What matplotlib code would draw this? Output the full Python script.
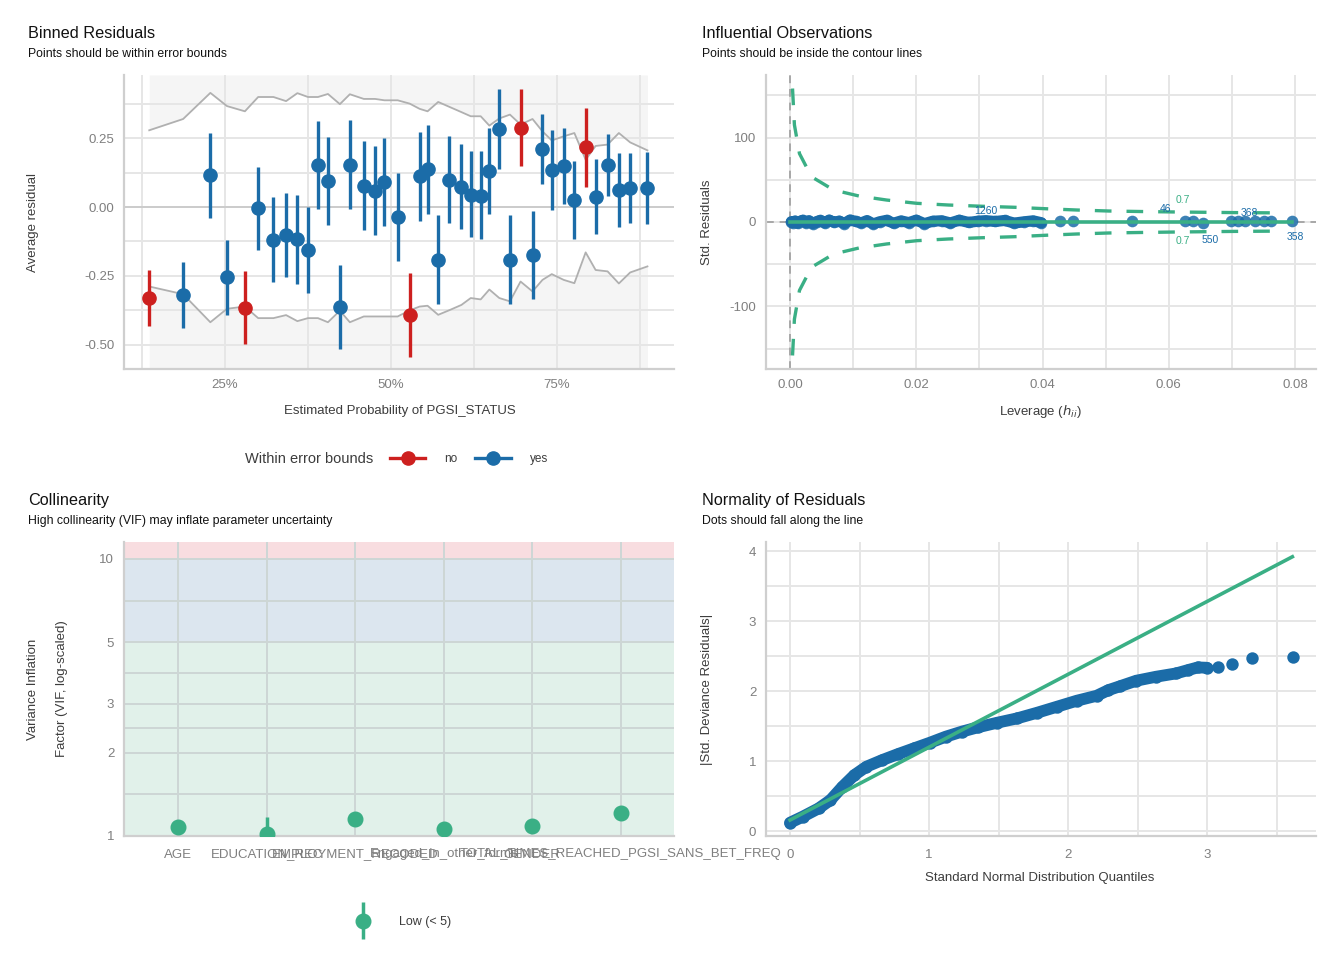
import numpy as np
import matplotlib
matplotlib.use('Agg')
import matplotlib.pyplot as plt
from matplotlib.lines import Line2D
from matplotlib.ticker import NullFormatter
from matplotlib.legend_handler import HandlerErrorbar

plt.rcParams['font.family'] = ['Liberation Sans', 'DejaVu Sans']
plt.rcParams['axes.unicode_minus'] = False

RED = '#cd201f'
BLUE = '#1b6ca8'
GREEN = '#3aaf85'
TICK_COL = '#7f7f7f'
LAB_COL = '#3c3c3c'

# ---- binned residuals ----
bin_x = [0.136, 0.187, 0.228, 0.253, 0.280, 0.300, 0.323, 0.342, 0.359, 0.375, 0.390,
         0.405, 0.423, 0.438, 0.459, 0.476, 0.490, 0.510, 0.528, 0.543, 0.555, 0.571,
         0.588, 0.606, 0.620, 0.635, 0.648, 0.663, 0.679, 0.695, 0.713, 0.728, 0.742,
         0.760, 0.776, 0.793, 0.808, 0.826, 0.843, 0.860, 0.886]
bin_y = [-0.331, -0.320, 0.115, -0.256, -0.369, -0.004, -0.119, -0.103, -0.117, -0.158, 0.152,
         0.093, -0.365, 0.152, 0.075, 0.057, 0.091, -0.038, -0.394, 0.112, 0.140, -0.191,
         0.097, 0.072, 0.045, 0.041, 0.130, 0.285, -0.191, 0.288, -0.175, 0.211, 0.133,
         0.148, 0.024, 0.217, 0.035, 0.152, 0.061, 0.069, 0.069]
bin_hi = [-0.228, -0.201, 0.268, -0.119, -0.234, 0.147, 0.035, 0.050, 0.042, -0.001, 0.312,
          0.254, -0.212, 0.316, 0.239, 0.221, 0.250, 0.123, -0.241, 0.272, 0.297, -0.030,
          0.257, 0.228, 0.203, 0.203, 0.286, 0.428, -0.030, 0.428, -0.016, 0.337, 0.279,
          0.286, 0.166, 0.359, 0.174, 0.265, 0.195, 0.195, 0.199]
bin_lo = [-0.434, -0.441, -0.040, -0.394, -0.499, -0.157, -0.271, -0.256, -0.280, -0.313, -0.007,
          -0.067, -0.517, -0.007, -0.084, -0.102, -0.069, -0.197, -0.546, -0.051, -0.025, -0.353,
          -0.058, -0.080, -0.109, -0.117, -0.025, 0.137, -0.353, 0.149, -0.335, 0.083, -0.011,
          0.011, -0.117, 0.073, -0.098, 0.040, -0.073, -0.058, -0.062]
bound_up = [0.279, 0.320, 0.415, 0.367, 0.348, 0.400, 0.400, 0.385, 0.414, 0.400, 0.400,
            0.411, 0.374, 0.410, 0.393, 0.393, 0.388, 0.388, 0.376, 0.357, 0.348, 0.382,
            0.364, 0.345, 0.330, 0.330, 0.296, 0.322, 0.336, 0.300, 0.320, 0.275, 0.242,
            0.257, 0.269, 0.172, 0.222, 0.227, 0.269, 0.235, 0.206]
bound_lo = [-0.289, -0.317, -0.419, -0.370, -0.362, -0.404, -0.404, -0.393, -0.415, -0.404, -0.404,
            -0.419, -0.377, -0.419, -0.398, -0.398, -0.398, -0.398, -0.376, -0.362, -0.359, -0.392,
            -0.375, -0.356, -0.331, -0.336, -0.300, -0.331, -0.343, -0.271, -0.307, -0.265, -0.244,
            -0.265, -0.277, -0.165, -0.229, -0.234, -0.278, -0.238, -0.216]
within = ['no', 'yes', 'yes', 'yes', 'no', 'yes', 'yes', 'yes', 'yes', 'yes', 'yes',
          'yes', 'yes', 'yes', 'yes', 'yes', 'yes', 'yes', 'no', 'yes', 'yes', 'yes',
          'yes', 'yes', 'yes', 'yes', 'yes', 'yes', 'yes', 'no', 'yes', 'yes', 'yes',
          'yes', 'yes', 'no', 'yes', 'yes', 'yes', 'yes', 'yes']

# ---- influential observations ----
lev_h = [0.0002, 0.0005, 0.0008, 0.0012, 0.0016, 0.0020, 0.0025, 0.0030, 0.0036, 0.0042,
         0.0048, 0.0055, 0.0062, 0.0070, 0.0078, 0.0086, 0.0095, 0.0104, 0.0113, 0.0122,
         0.0132, 0.0142, 0.0153, 0.0164, 0.0176, 0.0188, 0.0200, 0.0213, 0.0226, 0.0240,
         0.0254, 0.0268, 0.0283, 0.0298, 0.0310, 0.0325, 0.0340, 0.0355, 0.0370, 0.0385,
         0.0398, 0.0427, 0.0448, 0.0541, 0.0625, 0.0638, 0.0654, 0.0698, 0.0710, 0.0720,
         0.0736, 0.0750, 0.0762, 0.0795]
lev_r = [0.4, -0.6, 1.2, -1.5, 0.8, 2.1, -0.9, 1.6, -2.0, 0.5, 1.9, -1.2, 2.3, -0.4, 1.1,
         -1.8, 2.4, 0.7, -1.0, 1.7, -2.2, 0.3, 2.0, -1.4, 1.3, -0.7, 2.2, -1.9, 0.9, 1.5,
         -1.1, 2.1, -0.5, 1.0, 1.6, 0.6, 1.8, -1.3, 0.2, 1.4, -0.8, 1.2, 0.9, 1.1, 1.3,
         1.6, -1.0, 1.4, 1.5, 1.2, 1.7, 1.3, 1.1, 1.5]
n_dense = 41  # observations packed in the solid band near zero leverage
cook_h = [0.0004, 0.0007, 0.0015, 0.0034, 0.0069, 0.0109, 0.0153, 0.0201, 0.0251, 0.0305,
          0.0356, 0.0405, 0.0454, 0.0505, 0.0556, 0.0606, 0.0656, 0.0708, 0.0771]
cook_y = [158, 115, 81, 53.6, 37.9, 30.8, 26.0, 22.1, 20.1, 18.6, 17.4, 15.7, 14.2, 13.0,
          12.4, 11.9, 11.5, 11.1, 10.8]
obs_labels = ['1260', '46', '368', '550', '358']
obs_h = [0.0310, 0.0595, 0.0727, 0.0665, 0.0801]
obs_y = [13, 15.4, 10.6, -21, -17.8]
cook_level = '0.7'

# ---- collinearity ----
vif_names = ['AGE', 'EDUCATION_REC', 'EMPLOYMENT_RECODED', 'Engaged_in_other_forms',
             'GENDER', 'TOTAL_TIMES_REACHED_PGSI_SANS_BET_FREQ']
vif = [1.08, 1.02, 1.15, 1.06, 1.09, 1.21]
vif_lo = [1.04, 0.98, 1.11, 1.02, 1.05, 1.17]
vif_hi = [1.11, 1.17, 1.19, 1.09, 1.13, 1.25]

# ---- normality ----
qq_x = [0.0, 0.091, 0.206, 0.291, 0.377, 0.463, 0.549, 0.663, 0.777, 0.891, 1.006, 1.12,
        1.234, 1.349, 1.491, 1.634, 1.777, 1.92, 2.063, 2.206, 2.291, 2.377, 2.491, 2.634,
        2.777, 2.863, 2.934, 3.0, 3.077, 3.177, 3.32, 3.62]
qq_y = [0.119, 0.205, 0.324, 0.443, 0.633, 0.80, 0.919, 1.014, 1.10, 1.181, 1.262, 1.348,
        1.419, 1.481, 1.548, 1.61, 1.69, 1.776, 1.862, 1.933, 2.014, 2.071, 2.148, 2.205,
        2.252, 2.30, 2.338, 2.333, 2.343, 2.381, 2.467, 2.49]
ref_x = [0.0, 3.614]
ref_y = [0.157, 3.919]

W, H = 1344, 960
fig = plt.figure(figsize=(W / 100, H / 100), dpi=100)


def px_axes(x0, y0, x1, y1):
    return fig.add_axes([x0 / W, 1 - y1 / H, (x1 - x0) / W, (y1 - y0) / H])


def style(ax, gridcol='#e6e6e6'):
    for s in ['top', 'right']:
        ax.spines[s].set_visible(False)
    for s in ['left', 'bottom']:
        ax.spines[s].set_color('#cfcfcf')
        ax.spines[s].set_linewidth(1.6)
    ax.tick_params(which='both', length=0, colors=TICK_COL, labelsize=9.5, pad=7)
    ax.set_axisbelow(True)
    ax.grid(True, which='both', color=gridcol, lw=1.4)


def ftext(x, y, s, **kw):
    return fig.text(x / W, 1 - y / H, s, **kw)


# Panel 1: binned residuals
ax1 = px_axes(124, 75, 674, 369)
style(ax1)
y0, y1 = -0.589, 0.48
ax1.set_xlim(0.098, 0.926)
ax1.set_ylim(y0, y1)
ax1.fill_between(bin_x, y0, bound_lo, color='#f5f5f5', lw=0, zorder=0.2)
ax1.fill_between(bin_x, bound_up, y1, color='#f5f5f5', lw=0, zorder=0.2)
ax1.axhline(0, color='#cccccc', lw=1.4, zorder=0.6)
ax1.plot(bin_x, bound_up, color='#b0b0b0', lw=1.3, zorder=1)
ax1.plot(bin_x, bound_lo, color='#b0b0b0', lw=1.3, zorder=1)
for xv, yv, lo, hi, w in zip(bin_x, bin_y, bin_lo, bin_hi, within):
    c = RED if w == 'no' else BLUE
    ax1.errorbar([xv], [yv], yerr=[[yv - lo], [hi - yv]], fmt='o', color=c, ms=9.5,
                 elinewidth=2.4, capsize=0, zorder=3)
ax1.set_xticks([0.25, 0.5, 0.75], ['25%', '50%', '75%'])
ax1.set_xticks([0.125, 0.375, 0.625, 0.875], minor=True)
ax1.set_yticks([-0.5, -0.25, 0.0, 0.25], ['-0.50', '-0.25', '0.00', '0.25'])
ax1.set_yticks([-0.375, -0.125, 0.125, 0.375], minor=True)
ax1.xaxis.set_minor_formatter(NullFormatter())
ax1.yaxis.set_minor_formatter(NullFormatter())

ftext(28, 33, 'Binned Residuals', fontsize=11.7, va='center', color='#111111')
ftext(28, 54, 'Points should be within error bounds', fontsize=8.8, va='center', color='#111111')
ftext(400, 411, 'Estimated Probability of PGSI_STATUS', fontsize=9.5, ha='center', va='center', color=LAB_COL)
ftext(33, 222, 'Average residual', fontsize=9.5, ha='center', va='center', rotation=90, color=LAB_COL)

ftext(245, 459, 'Within error bounds', fontsize=10.5, va='center', color=LAB_COL)
h_no = Line2D([], [], color=RED, marker='o', lw=2.4, ms=9.5)
h_yes = Line2D([], [], color=BLUE, marker='o', lw=2.4, ms=9.5)
fig.legend([h_no, h_yes], ['no', 'yes'], ncol=2, loc='center left',
           bbox_to_anchor=(390 / W, 1 - 459 / H), frameon=False, fontsize=8.5,
           handlelength=3.0, handletextpad=1.6, columnspacing=1.5, borderpad=0,
           borderaxespad=0, labelcolor=LAB_COL)

# Panel 2: influential observations
ax2 = px_axes(766, 75, 1316, 369)
style(ax2)
ax2.set_xlim(-0.0038, 0.0833)
ax2.set_ylim(-174, 174)
ax2.axvline(0, color='#a8a8a8', lw=1.4, ls=(0, (4, 3)), zorder=0.7)
ax2.axhline(0, color='#a8a8a8', lw=1.4, ls=(0, (4, 3)), zorder=0.7)
ax2.plot(cook_h, cook_y, color=GREEN, lw=2.4, dashes=(5, 4.5), zorder=2)
ax2.plot(cook_h, [-v for v in cook_y], color=GREEN, lw=2.4, dashes=(5, 4.5), zorder=2)
ax2.plot(lev_h[:n_dense], lev_r[:n_dense], color=BLUE, lw=8, solid_capstyle='round', zorder=3)
ax2.scatter(lev_h, lev_r, s=70, color=BLUE, alpha=0.85, lw=0, zorder=3)
ax2.plot([0, max(lev_h)], [0, 0], color=GREEN, lw=2.6, zorder=4)
for lab, hv, yv in zip(obs_labels, obs_h, obs_y):
    ax2.text(hv, yv, lab, fontsize=7.5, color=BLUE, ha='center', va='center', zorder=5)
ax2.text(0.0622, 26, cook_level, fontsize=7.5, color=GREEN, ha='center', va='center')
ax2.text(0.0622, -22.5, cook_level, fontsize=7.5, color=GREEN, ha='center', va='center')
ax2.set_xticks([0, 0.02, 0.04, 0.06, 0.08], ['0.00', '0.02', '0.04', '0.06', '0.08'])
ax2.set_xticks([0.01, 0.03, 0.05, 0.07], minor=True)
ax2.set_yticks([-100, 0, 100])
ax2.set_yticks([-150, -50, 50, 150], minor=True)
ax2.xaxis.set_minor_formatter(NullFormatter())
ax2.yaxis.set_minor_formatter(NullFormatter())

ftext(702, 33, 'Influential Observations', fontsize=11.7, va='center', color='#111111')
ftext(702, 54, 'Points should be inside the contour lines', fontsize=8.8, va='center', color='#111111')
ftext(1040, 412, 'Leverage ($h_{ii}$)', fontsize=9.5, ha='center', va='center', color=LAB_COL)
ftext(707, 222, 'Std. Residuals', fontsize=9.5, ha='center', va='center', rotation=90, color=LAB_COL)

# Panel 3: collinearity
ax3 = px_axes(124, 542, 674, 836)
style(ax3, gridcol='#cdd6d5')
ax3.set_yscale('log')
ax3.set_ylim(1, 11.5)
ax3.set_xlim(-0.61, 5.6)
ax3.axhspan(1, 5, color='#e1f1ea', lw=0, zorder=0.1)
ax3.axhspan(5, 10, color='#dce6ef', lw=0, zorder=0.1)
ax3.axhspan(10, 11.5, color='#f8dde0', lw=0, zorder=0.1)
xs = np.arange(len(vif_names))
vif_a = np.array(vif)
eb = ax3.errorbar(xs, vif_a, yerr=[vif_a - np.array(vif_lo), np.array(vif_hi) - vif_a],
                  fmt='o', color=GREEN, ms=10.5, elinewidth=2.5, capsize=0, zorder=3)
ax3.set_xticks(xs, vif_names)
ax3.set_yticks([1, 2, 3, 5, 10], ['1', '2', '3', '5', '10'])
ax3.set_yticks([1.414, 2.449, 3.873, 7.071], minor=True)
ax3.yaxis.set_minor_formatter(NullFormatter())
ax3.grid(False, axis='x', which='minor')
ax3.tick_params(axis='x', pad=9)

ftext(28, 500, 'Collinearity', fontsize=11.7, va='center', color='#111111')
ftext(28, 521, 'High collinearity (VIF) may inflate parameter uncertainty', fontsize=8.8, va='center', color='#111111')
ftext(33, 689, 'Variance Inflation', fontsize=9.5, ha='center', va='center', rotation=90, color=LAB_COL)
ftext(62, 689, 'Factor (VIF, log-scaled)', fontsize=9.5, ha='center', va='center', rotation=90, color=LAB_COL)

fig.legend([eb], ['Low (< 5)'], loc='center left', bbox_to_anchor=(354 / W, 1 - 922 / H),
           frameon=False, fontsize=9, handlelength=1.5, handletextpad=2.1, borderpad=0,
           borderaxespad=0, labelcolor=LAB_COL,
           handler_map={eb: HandlerErrorbar(xerr_size=0.5, yerr_size=1.5)})

# Panel 4: normality of residuals
ax4 = px_axes(766, 542, 1316, 836)
style(ax4)
ax4.set_xlim(-0.173, 3.784)
ax4.set_ylim(-0.071, 4.13)
ax4.plot(qq_x[:28], qq_y[:28], color=BLUE, lw=8.5, solid_capstyle='round', zorder=2)
ax4.scatter(qq_x, qq_y, s=80, color=BLUE, lw=0, zorder=3)
ax4.plot(ref_x, ref_y, color=GREEN, lw=2.6, zorder=4)
ax4.set_xticks([0, 1, 2, 3])
ax4.set_xticks([0.5, 1.5, 2.5, 3.5], minor=True)
ax4.set_yticks([0, 1, 2, 3, 4])
ax4.set_yticks([0.5, 1.5, 2.5, 3.5], minor=True)
ax4.xaxis.set_minor_formatter(NullFormatter())
ax4.yaxis.set_minor_formatter(NullFormatter())
ax4.tick_params(axis='x', pad=9)

ftext(702, 500, 'Normality of Residuals', fontsize=11.7, va='center', color='#111111')
ftext(702, 521, 'Dots should fall along the line', fontsize=8.8, va='center', color='#111111')
ftext(1040, 878, 'Standard Normal Distribution Quantiles', fontsize=9.5, ha='center', va='center', color=LAB_COL)
ftext(707, 689, '|Std. Deviance Residuals|', fontsize=9.5, ha='center', va='center', rotation=90, color=LAB_COL)

fig.savefig('out.png', dpi=100)
